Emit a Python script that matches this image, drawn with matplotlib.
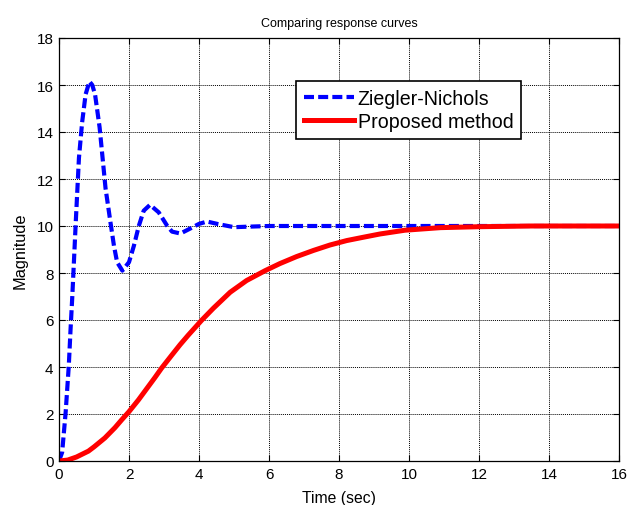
import matplotlib
matplotlib.use("Agg")
import matplotlib.pyplot as plt

zn_t = [0, 0.09, 0.19, 0.28, 0.33, 0.38, 0.43, 0.48, 0.57, 0.66, 0.76, 0.87, 0.95, 1.03,
        1.16, 1.33, 1.47, 1.57, 1.66, 1.81, 2.0, 2.14, 2.28, 2.42, 2.6, 2.85, 3.09, 3.23,
        3.47, 3.76, 4.0, 4.23, 4.52, 5.0, 5.38, 6.0, 16.0]
zn_y = [0, 0.37, 2.07, 4.06, 5.6, 7.0, 8.6, 10.2, 12.9, 14.4, 15.6, 16.15, 16.0, 15.6,
        14.2, 11.6, 10.16, 9.16, 8.46, 8.1, 8.46, 9.16, 10.0, 10.65, 10.9, 10.58, 10.01, 9.76,
        9.68, 9.9, 10.09, 10.19, 10.09, 9.95, 9.97, 10.0, 10.0]

pm_t = [0, 0.25, 0.5, 0.84, 1.0, 1.31, 1.6, 1.79, 2.0, 2.27, 2.74, 2.93, 3.22, 3.46, 3.69,
        4.07, 4.41, 4.89, 5.36, 5.89, 6.31, 6.79, 7.27, 7.74, 8.22, 8.69, 9.17, 9.88, 10.9,
        12.0, 13.5, 16.0]
pm_y = [0, 0.04, 0.17, 0.42, 0.6, 0.98, 1.42, 1.75, 2.1, 2.6, 3.55, 3.95, 4.5, 4.95, 5.35,
        5.98, 6.5, 7.18, 7.68, 8.1, 8.4, 8.7, 8.96, 9.19, 9.38, 9.52, 9.66, 9.82, 9.93,
        9.97, 10.0, 10.0]

xticks = list(range(0, 17, 2))
yticks = list(range(0, 19, 2))

plt.rcParams['font.family'] = ['Liberation Sans', 'DejaVu Sans']

fig = plt.figure(figsize=(6.27, 5.06), dpi=100)
ax = fig.add_axes([59 / 627, 44 / 506, 560 / 627, 423 / 506])

ax.plot(zn_t, zn_y, color='#0000ff', lw=3, dashes=(2.4, 1.0), label='Ziegler-Nichols')
ax.plot(pm_t, pm_y, color='#ff0000', lw=3.6, label='Proposed method')

ax.set_xlim(0, 16)
ax.set_ylim(0, 18)
ax.set_xticks(xticks)
ax.set_yticks(yticks)
ax.tick_params(direction='in', top=True, right=True, labelsize=11, length=4, width=0.8,
               pad=4)
ax.grid(True, color='black', linestyle=(0, (1, 1)), linewidth=0.7)
for s in ax.spines.values():
    s.set_linewidth(0.9)

ax.set_title('Comparing response curves', fontsize=9, pad=9)
ax.set_xlabel('Time (sec)', fontsize=11.3, labelpad=6.5)
ax.set_ylabel('Magnitude', fontsize=11.8, labelpad=6)

leg = ax.legend(loc='upper left', bbox_to_anchor=(237 / 560, 380 / 423), fontsize=14.1,
                frameon=True, fancybox=False, edgecolor='black', handlelength=2.55,
                borderpad=0.4, labelspacing=0.22, handletextpad=0.2, borderaxespad=0)
leg.get_frame().set_linewidth(1.2)
leg.get_frame().set_alpha(1)

fig.savefig('out.png', dpi=100)
